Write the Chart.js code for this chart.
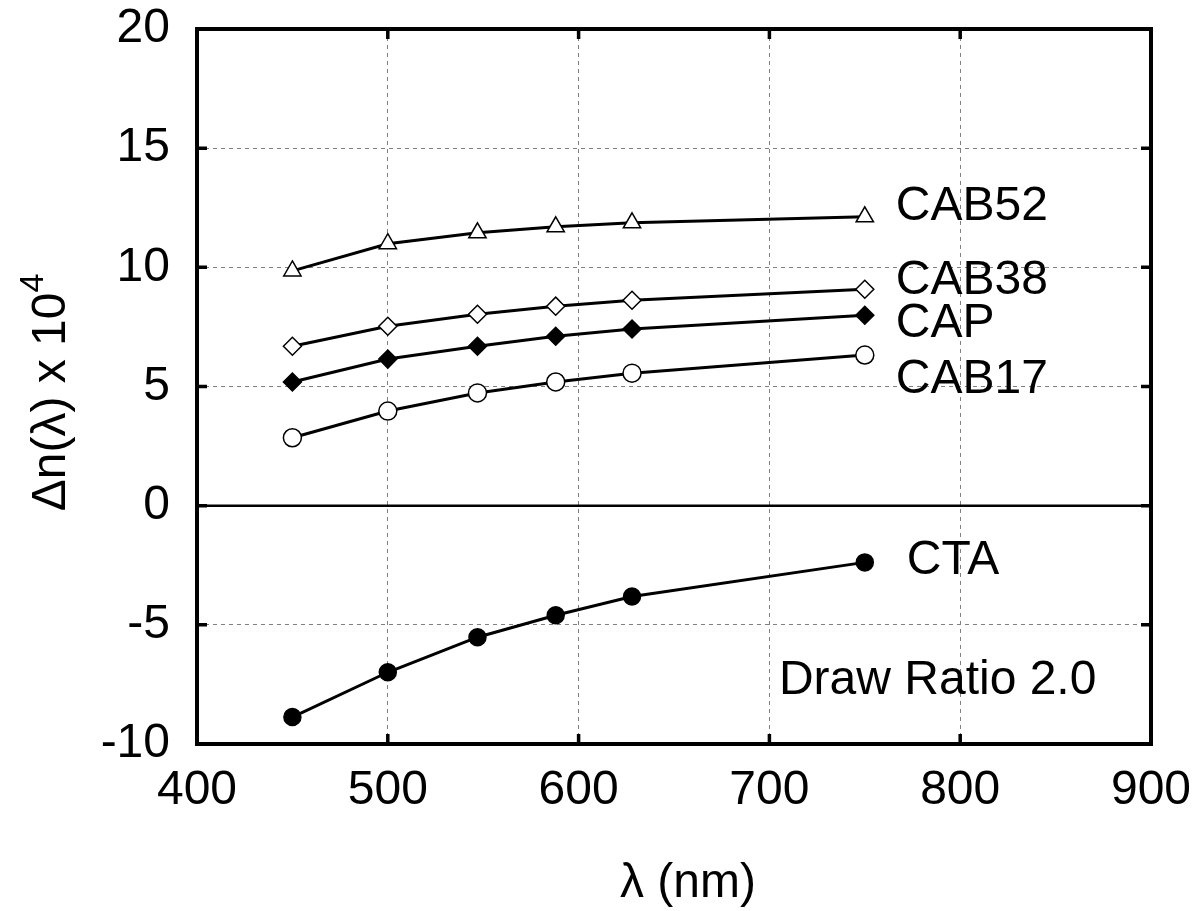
<!DOCTYPE html>
<html>
<head>
<meta charset="utf-8">
<script src="https://cdn.jsdelivr.net/npm/chart.js@4.4.1/dist/chart.umd.min.js"></script>
<style>
  body { margin: 0; background: #fff; }
  #wrap { width: 1204px; height: 911px; }
</style>
</head>
<body>
<div id="wrap"><canvas id="dnChart" width="1204" height="911"></canvas></div>
<script>
// wavelengths (nm) and birefringence x 1e4
const wavelengths = [450, 500, 547, 588, 628, 750];
const cab52 = [9.85, 10.99, 11.45, 11.70, 11.87, 12.12];
const cab38 = [6.69, 7.53, 8.03, 8.37, 8.62, 9.08];
const cap = [5.19, 6.15, 6.69, 7.11, 7.41, 7.99];
const cab17 = [2.85, 3.97, 4.73, 5.19, 5.56, 6.32];
const cta = [-8.87, -6.99, -5.52, -4.60, -3.81, -2.38];

const seriesNames = ['CAB52', 'CAB38', 'CAP', 'CAB17', 'CTA'];
const xTicks = [400, 500, 600, 700, 800, 900];
const yTicks = [-10, -5, 0, 5, 10, 15, 20];
const note = 'Draw Ratio 2.0';

const FONT = "'Liberation Sans', Arial, sans-serif";

function pts(ys) {
  return wavelengths.map((x, i) => ({ x: x, y: ys[i] }));
}

function ds(label, ys, style, radius, fill) {
  return {
    label: label,
    data: pts(ys),
    borderColor: '#000',
    borderWidth: 3,
    pointStyle: style,
    pointRadius: radius,
    pointHoverRadius: radius,
    pointBackgroundColor: fill,
    pointBorderColor: '#000',
    pointBorderWidth: 1.5,
    tension: 0,
    clip: false
  };
}

// label offsets in px from each series' last point
const labelOffsets = {
  CAB52: [31, -10],
  CAB38: [31, -8],
  CAP: [31, 9],
  CAB17: [31, 25],
  CTA: [42, -2]
};

const framePlugin = {
  id: 'frame',
  afterDraw(chart) {
    const ctx = chart.ctx;
    const a = chart.chartArea;
    const xs = chart.scales.x, ys = chart.scales.y;
    ctx.save();
    ctx.strokeStyle = '#000';

    // zero line
    ctx.lineWidth = 2.5;
    ctx.beginPath();
    ctx.moveTo(a.left, ys.getPixelForValue(0));
    ctx.lineTo(a.right, ys.getPixelForValue(0));
    ctx.stroke();

    // inner ticks
    ctx.lineWidth = 3.5;
    ctx.beginPath();
    xTicks.forEach(v => {
      const px = xs.getPixelForValue(v);
      ctx.moveTo(px, a.bottom); ctx.lineTo(px, a.bottom - 10);
      ctx.moveTo(px, a.top); ctx.lineTo(px, a.top + 10);
    });
    yTicks.forEach(v => {
      const py = ys.getPixelForValue(v);
      ctx.moveTo(a.left, py); ctx.lineTo(a.left + 10, py);
      ctx.moveTo(a.right, py); ctx.lineTo(a.right - 10, py);
    });
    ctx.stroke();

    // frame
    ctx.lineWidth = 4;
    ctx.strokeRect(a.left, a.top, a.right - a.left, a.bottom - a.top);

    // series labels
    ctx.fillStyle = '#000';
    ctx.font = '48px ' + FONT;
    ctx.textAlign = 'left';
    ctx.textBaseline = 'middle';
    chart.data.datasets.forEach((d, i) => {
      const last = chart.getDatasetMeta(i).data[d.data.length - 1];
      const off = labelOffsets[d.label];
      ctx.fillText(d.label, last.x + off[0], last.y + off[1]);
    });

    // note
    ctx.fillText(note, xs.getPixelForValue(705), ys.getPixelForValue(-7.35));

    // x title
    ctx.textAlign = 'center';
    ctx.textBaseline = 'alphabetic';
    ctx.fillText('\u03bb (nm)', (a.left + a.right) / 2 + 14, 897);

    // y title with superscript
    const main = '\u0394n(\u03bb) x 10';
    ctx.font = '48px ' + FONT;
    const wMain = ctx.measureText(main).width;
    ctx.font = '34px ' + FONT;
    const wSup = ctx.measureText('4').width;
    const total = wMain + wSup;
    ctx.translate(65, (a.top + a.bottom) / 2 + 6);
    ctx.rotate(-Math.PI / 2);
    ctx.textAlign = 'left';
    ctx.font = '48px ' + FONT;
    ctx.fillText(main, -total / 2, 0);
    ctx.font = '34px ' + FONT;
    ctx.fillText('4', -total / 2 + wMain, -22);
    ctx.restore();
  }
};

new Chart(document.getElementById('dnChart'), {
  type: 'line',
  data: {
    datasets: [
      ds(seriesNames[0], cab52, 'triangle', 10, '#fff'),
      ds(seriesNames[1], cab38, 'rectRot', 9, '#fff'),
      ds(seriesNames[2], cap, 'rectRot', 9, '#000'),
      ds(seriesNames[3], cab17, 'circle', 9, '#fff'),
      ds(seriesNames[4], cta, 'circle', 8.5, '#000')
    ]
  },
  options: {
    responsive: false,
    animation: false,
    layout: { padding: { top: 29, right: 53, left: 0, bottom: 0 } },
    plugins: {
      legend: { display: false },
      tooltip: { enabled: false }
    },
    scales: {
      x: {
        type: 'linear',
        min: 400,
        max: 900,
        afterBuildTicks: s => { s.ticks = xTicks.map(v => ({ value: v })); },
        afterFit: s => { s.height = 167; s.paddingLeft = 0; s.paddingRight = 0; },
        ticks: {
          color: '#000',
          padding: 18,
          maxRotation: 0,
          font: { size: 48, family: FONT }
        },
        grid: { color: '#808080', lineWidth: 1, drawTicks: false },
        border: { display: false, dash: [4, 4] }
      },
      y: {
        min: -10,
        max: 20,
        afterBuildTicks: s => { s.ticks = yTicks.map(v => ({ value: v })); },
        afterFit: s => { s.width = 197; s.paddingTop = 0; s.paddingBottom = 0; },
        ticks: {
          color: '#000',
          padding: 27,
          font: { size: 48, family: FONT }
        },
        grid: { color: '#808080', lineWidth: 1, drawTicks: false },
        border: { display: false, dash: [4, 4] }
      }
    }
  },
  plugins: [framePlugin]
});
</script>
</body>
</html>
